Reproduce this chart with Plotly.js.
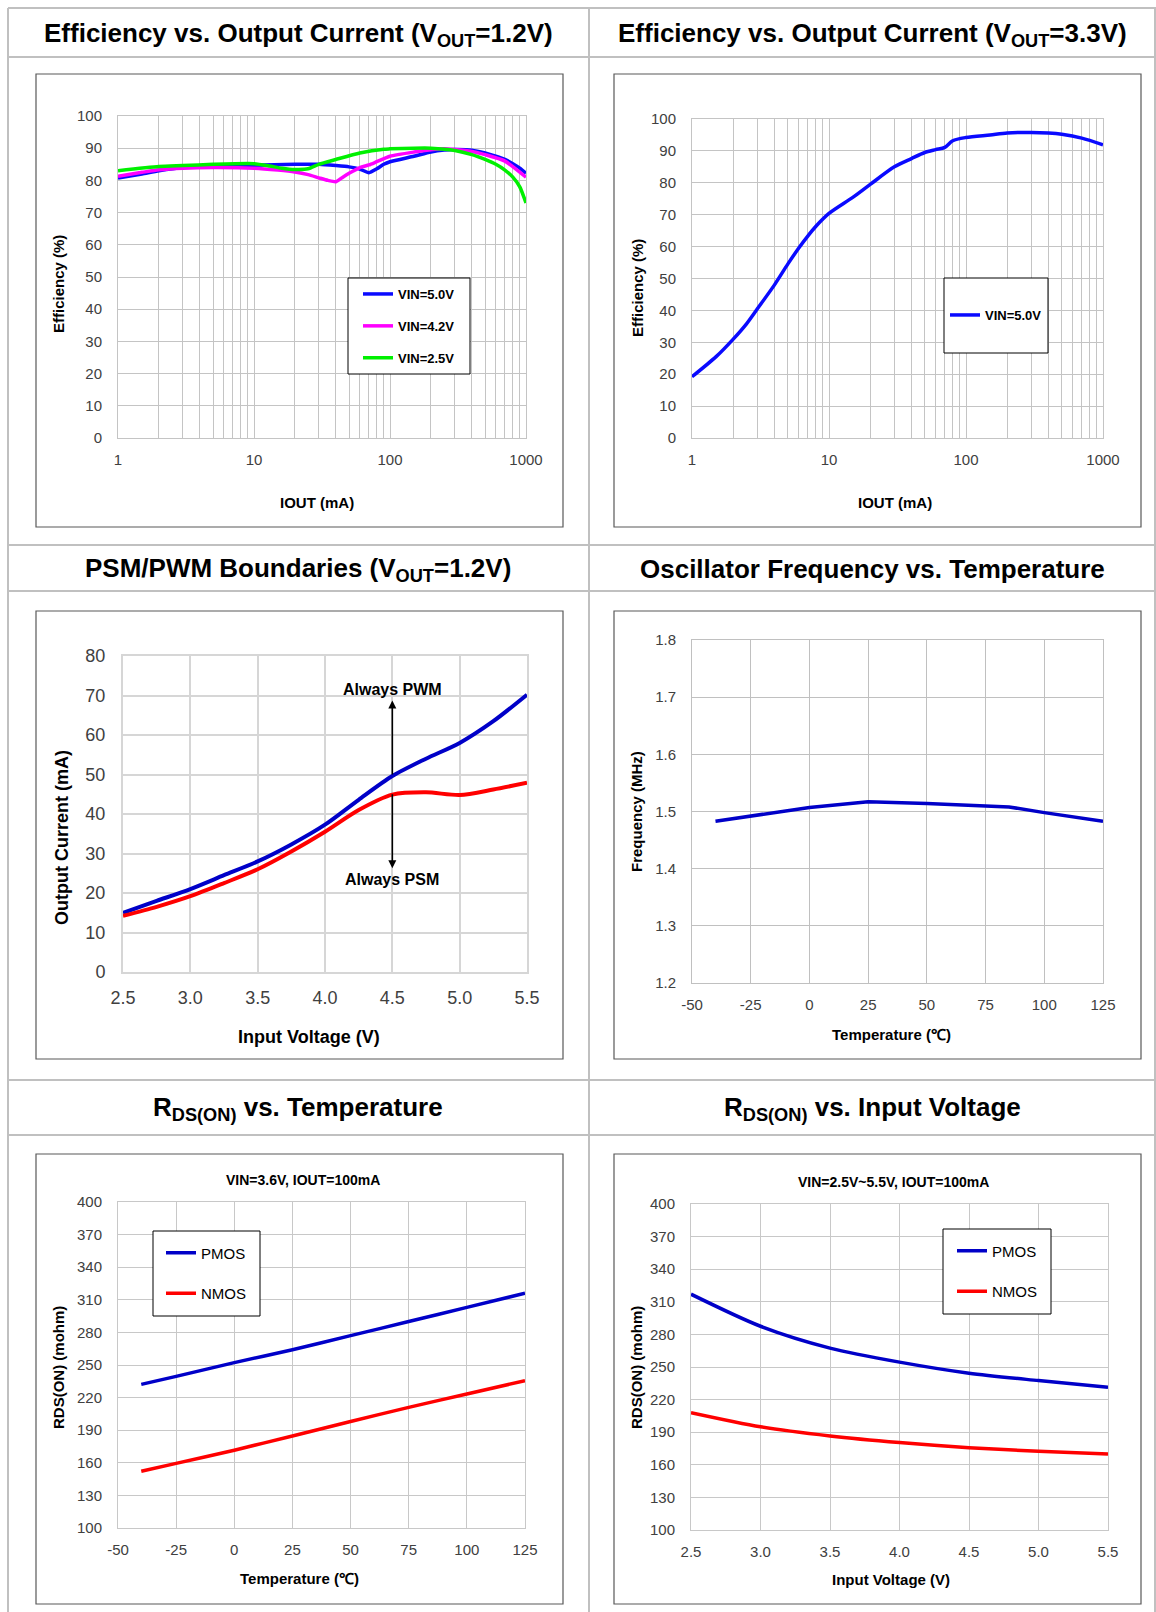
<!DOCTYPE html>
<html><head><meta charset="utf-8">
<script src="https://cdn.plot.ly/plotly-3.0.1.min.js"></script>
<style>html,body{margin:0;padding:0;background:#fff}#chart{width:1156px;height:1612px}</style>
</head><body><div id="chart"></div>
<script>
// ---------- DATA ----------
// Panel 1: Efficiency vs Output Current (VOUT=1.2V)
const p1_iout_50 = [1,1.5,2,3,5,10,20,30,40,50,60,70,80,90,100,150,200,250,300,400,500,600,700,800,900,1000];
const p1_eff_50  = [80.7,82,83,84,84.3,84.7,85,85,84.6,84.2,83.5,82.4,83.6,85,85.8,87.5,88.8,89.4,89.6,89.4,88.5,87.5,86.5,85.2,83.8,82.2];
const p1_iout_42 = [1,1.5,2,3,5,10,15,20,25,30,35,40,45,50,60,70,80,100,150,200,250,300,400,500,700,1000];
const p1_eff_42  = [81.3,82.5,83.3,83.8,84,83.8,83.2,82.6,81.8,80.8,80,79.6,81,82.2,84,84.8,85.8,87.5,88.8,89.5,89.8,89.6,89,88,86,81];
const p1_iout_25 = [1,2,3,5,10,13,16,20,25,30,40,60,90,100,150,200,300,400,500,600,700,800,900,1000];
const p1_eff_25  = [83,84.3,84.6,85,85.2,84.5,83.8,83.4,83.6,85,86.5,88.5,89.7,89.8,90,90,89.3,88,86.5,85,83.2,81,78,73];
// Panel 2: Efficiency vs Output Current (VOUT=3.3V)
const p2_iout = [1,1.5,2,2.5,3,4,5,6,7,8,10,15,20,30,40,50,60,70,80,100,150,200,300,400,500,700,1000];
const p2_eff  = [19.2,25.5,31,35.8,40.5,48,54.5,59.5,63.3,66.3,70.4,75.5,79.5,85,87.6,89.5,90.4,91.1,93.2,94.2,95,95.6,95.8,95.6,95.2,94,91.9];
// Panel 3: PSM/PWM boundaries
const p3_vin = [2.5,2.75,3.0,3.25,3.5,3.75,4.0,4.25,4.5,4.75,5.0,5.25,5.5];
const p3_pwm = [15,18,21,24.5,28,32.3,37.3,43.6,49.6,54,58,63.5,70.2];
const p3_psm = [14.2,16.5,19.2,22.5,26,30.5,35.5,41,44.9,45.5,44.8,46.2,47.9];
// Panel 4: Oscillator frequency vs temperature
const p4_temp = [-40,0,25,50,85,100,125];
const p4_freq = [1.483,1.507,1.517,1.514,1.508,1.498,1.483];
// Panel 5: RDS(ON) vs temperature
const p5_temp = [-40,-25,0,25,50,75,100,125];
const p5_pmos = [232.2,239.5,252.2,264,277,290,303,316];
const p5_nmos = [152.3,159.5,171.6,184.7,198,211,223.3,235.6];
// Panel 6: RDS(ON) vs input voltage
const p6_vin  = [2.5,3.0,3.5,4.0,4.5,5.0,5.5];
const p6_pmos = [317,287.5,267.4,254.5,244.3,237.5,231.4];
const p6_nmos = [208,195,186.6,180.5,175.8,172.5,170];
// Tick labels
const logTicks = [1,10,100,1000];
const logMinor = [2,3,4,5,6,7,8,9,20,30,40,50,60,70,80,90,200,300,400,500,600,700,800,900];
const tempTicks = [-50,-25,0,25,50,75,100,125];
const tempLabels = ['-50','-25','0','25','50','75','100','125'];

// ---------- LAYOUT GEOMETRY (pixels) ----------
const W=1156,H=1612;
const fx=p=>p/W, fy=p=>1-p/H;
const FN="Liberation Sans Narrow, Arial Narrow, Liberation Sans, sans-serif";
const boxes=[[36,74,563,527],[614,74,1141,527],[36,611,563,1059],[614,611,1141,1059],[36,1154,563,1604],[614,1154,1141,1604]];
const plots=[[118,116,526,438],[692,119,1103,438],[123,656,527,972],[692,640,1103,983],[118,1202,525,1528],[691,1204,1108,1530]];
const gridStyle=[['#c4c4c4',1],['#c4c4c4',1],['#d6d6d6',2],['#c0c0c0',1],['#c8c8c8',1],['#c8c8c8',1]];
const tickFont=(s)=>({family:FN,size:s,color:'#404040'});

const BLUE='#0a0aff', DBLUE='#0000c8', RED='#ff0000', MAG='#ff00ff', GRN='#00f000';

const traces=[
 {x:p1_iout_50,y:p1_eff_50,name:'VIN=5.0V',xaxis:'x',yaxis:'y',legend:'legend',legendgroup:'a',line:{color:BLUE,width:3.5,shape:'spline',smoothing:0.6},mode:'lines'},
 {x:p1_iout_42,y:p1_eff_42,name:'VIN=4.2V',xaxis:'x',yaxis:'y',legend:'legend',legendgroup:'b',line:{color:MAG,width:3.5,shape:'spline',smoothing:0.6},mode:'lines'},
 {x:p1_iout_25,y:p1_eff_25,name:'VIN=2.5V',xaxis:'x',yaxis:'y',legend:'legend',legendgroup:'c',line:{color:GRN,width:3.5,shape:'spline',smoothing:0.6},mode:'lines'},
 {x:p2_iout,y:p2_eff,name:'VIN=5.0V',xaxis:'x2',yaxis:'y2',legend:'legend2',line:{color:BLUE,width:3.5,shape:'spline',smoothing:0.8},mode:'lines'},
 {x:p3_vin,y:p3_pwm,name:'PWM',xaxis:'x3',yaxis:'y3',showlegend:false,line:{color:DBLUE,width:4,shape:'spline',smoothing:0.8},mode:'lines'},
 {x:p3_vin,y:p3_psm,name:'PSM',xaxis:'x3',yaxis:'y3',showlegend:false,line:{color:RED,width:4,shape:'spline',smoothing:0.8},mode:'lines'},
 {x:p4_temp,y:p4_freq,name:'Freq',xaxis:'x4',yaxis:'y4',showlegend:false,line:{color:DBLUE,width:3.5},mode:'lines'},
 {x:p5_temp,y:p5_pmos,name:'PMOS',xaxis:'x5',yaxis:'y5',legend:'legend3',legendgroup:'p',line:{color:DBLUE,width:3.5,shape:'spline',smoothing:0.6},mode:'lines'},
 {x:p5_temp,y:p5_nmos,name:'NMOS',xaxis:'x5',yaxis:'y5',legend:'legend3',legendgroup:'n',line:{color:RED,width:3.5,shape:'spline',smoothing:0.6},mode:'lines'},
 {x:p6_vin,y:p6_pmos,name:'PMOS',xaxis:'x6',yaxis:'y6',legend:'legend4',legendgroup:'p',line:{color:DBLUE,width:3.5,shape:'spline',smoothing:0.8},mode:'lines'},
 {x:p6_vin,y:p6_nmos,name:'NMOS',xaxis:'x6',yaxis:'y6',legend:'legend4',legendgroup:'n',line:{color:RED,width:3.5,shape:'spline',smoothing:0.8},mode:'lines'}
];

const layout={width:W,height:H,margin:{l:0,r:0,t:0,b:0},paper_bgcolor:'#fff',plot_bgcolor:'#fff',showlegend:true,
 font:{family:FN},shapes:[],annotations:[]};

const xcfg=[
 {type:'log',range:[0,3],tickmode:'array',tickvals:logTicks,ticktext:logTicks.map(String),fs:15,minorLog:true},
 {type:'log',range:[0,3],tickmode:'array',tickvals:logTicks,ticktext:logTicks.map(String),fs:15,minorLog:true},
 {range:[2.5,5.5],tick0:2.5,dtick:0.5,tickformat:'.1f',fs:18},
 {range:[-50,125],tickmode:'array',tickvals:tempTicks,ticktext:tempLabels,fs:15},
 {range:[-50,125],tickmode:'array',tickvals:tempTicks,ticktext:tempLabels,fs:15},
 {range:[2.5,5.5],tick0:2.5,dtick:0.5,tickformat:'.1f',fs:15}
];
const ycfg=[
 {range:[0,100],tick0:0,dtick:10,fs:15},
 {range:[0,100],tick0:0,dtick:10,fs:15},
 {range:[0,80],tick0:0,dtick:10,fs:18},
 {range:[1.2,1.8],tick0:1.2,dtick:0.1,tickformat:'.1f',fs:15},
 {range:[100,400],tick0:100,dtick:30,fs:15},
 {range:[100,400],tick0:100,dtick:30,fs:15}
];
for(let i=0;i<6;i++){
 const [l,t,r,b]=plots[i]; const n=i===0?'':String(i+1);
 const [gc,gw]=gridStyle[i];
 const xc=Object.assign({},xcfg[i]); const xfs=xc.fs; delete xc.fs;
 if(xc.minorLog){ delete xc.minorLog; xc.minor={tickmode:'array',tickvals:logMinor,showgrid:true,gridcolor:gc,gridwidth:gw,ticks:''}; }
 const yc=Object.assign({},ycfg[i]); const yfs=yc.fs; delete yc.fs;
 const common={showgrid:true,gridcolor:gc,gridwidth:gw,showline:true,mirror:true,linecolor:gc,linewidth:gw,
   zeroline:false,ticks:'',fixedrange:true};
 layout['xaxis'+n]=Object.assign({},common,xc,{domain:[fx(l),fx(r)],anchor:'y'+n,tickfont:tickFont(xfs),ticklabelstandoff:8});
 layout['yaxis'+n]=Object.assign({},common,yc,{domain:[fy(b),fy(t)],anchor:'x'+n,tickfont:tickFont(yfs),ticklabelstandoff:12});
}

// table lines
const TL='#c0c0c0';
[8,57,545,591,1080,1135].forEach(y=>layout.shapes.push({type:'line',xref:'paper',yref:'paper',x0:fx(8),x1:fx(1156),y0:fy(y),y1:fy(y),line:{color:TL,width:2}}));
[8,589,1155].forEach(x=>layout.shapes.push({type:'line',xref:'paper',yref:'paper',x0:fx(x),x1:fx(x),y0:fy(8),y1:fy(1612),line:{color:TL,width:2}}));
// chart boxes
boxes.forEach(([l,t,r,b])=>layout.shapes.push({type:'rect',xref:'paper',yref:'paper',x0:fx(l),x1:fx(r),y0:fy(b),y1:fy(t),line:{color:'#595959',width:1.2},layer:'below'}));
// legend frames
const legBoxes=[[348,278,470,374],[944,278,1048,353],[153,1231,260,1316],[943,1229,1051,1314]];
legBoxes.forEach(([l,t,r,b])=>layout.shapes.push({type:'rect',xref:'paper',yref:'paper',x0:fx(l),x1:fx(r),y0:fy(b),y1:fy(t),line:{color:'#000',width:1},fillcolor:'#fff',layer:'above'}));

const legBase=(cx,cy,fs,bold,gap)=>({x:fx(cx),y:fy(cy),xanchor:'center',yanchor:'middle',bgcolor:'rgba(0,0,0,0)',borderwidth:0,
  font:{family:FN,size:fs,color:'#000',weight:bold?'bold':'normal'},tracegroupgap:gap,itemwidth:30});
layout.legend=legBase(409,326,13,true,12);
layout.legend2=legBase(996,315,13,true,0);
layout.legend3=legBase(206,1273,15,false,18);
layout.legend4=legBase(997,1271,15,false,18);

// headers
const hdr=(t,x,y)=>({text:t,x:fx(x),y:fy(y),xref:'paper',yref:'paper',showarrow:false,font:{family:FN,size:26,color:'#000',weight:'bold'},xanchor:'center',yanchor:'middle'});
layout.annotations.push(
 hdr('Efficiency vs. Output Current (V<sub>OUT</sub>=1.2V)',298,34),
 hdr('Efficiency vs. Output Current (V<sub>OUT</sub>=3.3V)',872,34),
 hdr('PSM/PWM Boundaries (V<sub>OUT</sub>=1.2V)',298,569),
 hdr('Oscillator Frequency vs. Temperature',872,569),
 hdr('R<sub>DS(ON)</sub> vs. Temperature',298,1108),
 hdr('R<sub>DS(ON)</sub> vs. Input Voltage',872,1108)
);
// axis titles
const at=(t,x,y,fs,rot)=>({text:t,x:fx(x),y:fy(y),xref:'paper',yref:'paper',showarrow:false,textangle:rot||0,font:{family:FN,size:fs,color:'#000',weight:'bold'},xanchor:'center',yanchor:'middle'});
layout.annotations.push(
 at('IOUT (mA)',317,502,15), at('Efficiency (%)',58,284,15,-90),
 at('IOUT (mA)',895,502,15), at('Efficiency (%)',637,288,15,-90),
 at('Input Voltage (V)',309,1037,18), at('Output Current (mA)',62,838,18,-90),
 at('Temperature (℃)',891,1034,15), at('Frequency (MHz)',636,812,15,-90),
 at('Temperature (℃)',299,1578,15), at('RDS(ON) (mohm)',58,1368,15,-90),
 at('Input Voltage (V)',891,1579,15), at('RDS(ON) (mohm)',636,1368,15,-90),
 at('VIN=3.6V, IOUT=100mA',303,1180,14), at('VIN=2.5V~5.5V, IOUT=100mA',893,1182,14)
);
// PSM/PWM labels with arrows (head drawn at the label end)
const arrowFont={family:FN,size:16,color:'#000',weight:'bold'};
layout.annotations.push(
 {xref:'x3',yref:'y3',axref:'x3',ayref:'y3',x:4.5,y:50,ax:4.5,ay:71.5,text:'Always PWM',font:arrowFont,
  showarrow:true,arrowside:'start',startarrowhead:2,startarrowsize:1,arrowwidth:1.6,arrowcolor:'#000',startstandoff:1},
 {xref:'x3',yref:'y3',axref:'x3',ayref:'y3',x:4.5,y:45,ax:4.5,ay:23.5,text:'Always PSM',font:arrowFont,
  showarrow:true,arrowside:'start',startarrowhead:2,startarrowsize:1,arrowwidth:1.6,arrowcolor:'#000',startstandoff:1}
);

Plotly.newPlot('chart',traces,layout,{staticPlot:true,displayModeBar:false});
</script></body></html>
